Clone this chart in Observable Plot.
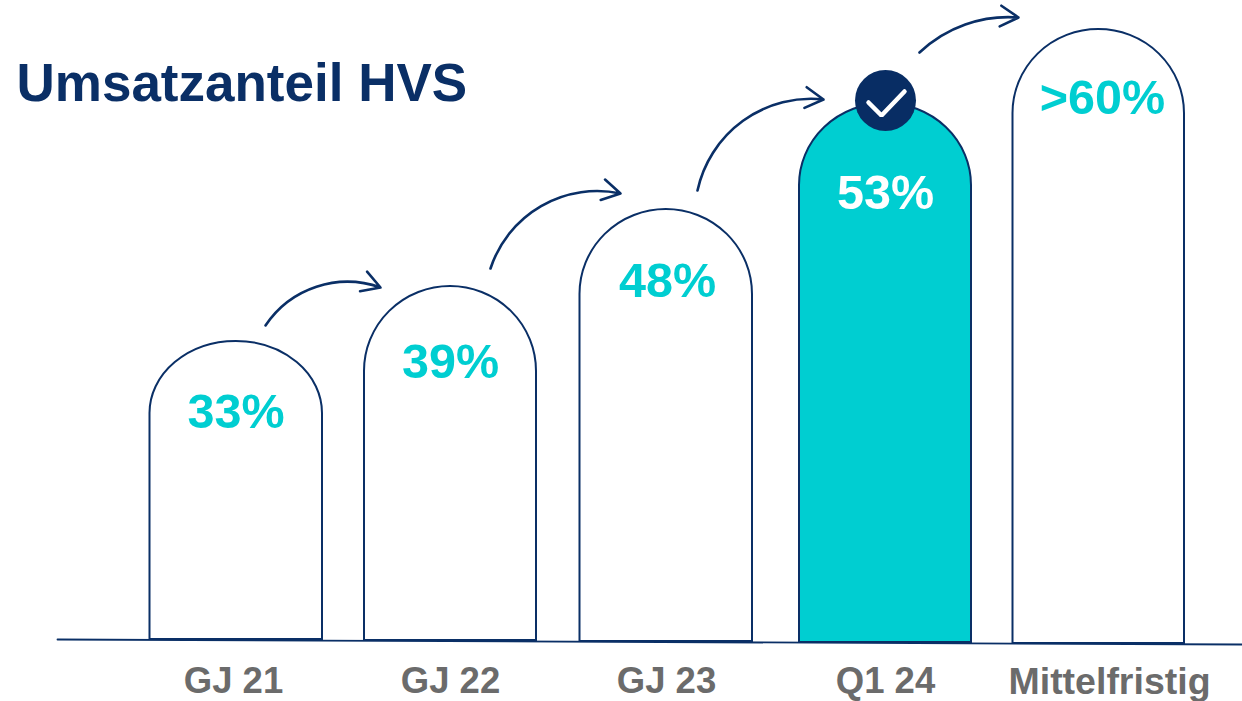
<!DOCTYPE html>
<html><head><meta charset="utf-8">
<style>html,body{margin:0;padding:0;background:#fff}svg{display:block}</style>
<script src="https://cdn.jsdelivr.net/npm/d3@7"></script>
<script src="https://cdn.jsdelivr.net/npm/@observablehq/plot@0.6"></script>
</head><body><div id="chart"></div>
<script>
const navy="#0a2f66", teal="#00ced1", grey="#6b6b6b";
const categories=["GJ 21","GJ 22","GJ 23","Q1 24","Mittelfristig"];
const valueLabels=["33%","39%","48%","53%",">60%"];
const barLeft=[149.5,364,579.5,799,1012.5];
const barRight=[322,536,752,971,1184];
const barTop=[360,415,492,598,672];
const barBase=[62,61,60,59,58];
const archHeight=[72,85,85,82,84];
const labelCentre=[235.5,450,667,885,1102];
const labelLevel=[289,339,420,508,603];
const categoryCentre=[233,450,666,885,1109];
const categoryLevel=[20,20,20,20,20];
const categorySize=[36.5,36.5,36.5,36.5,37.5];
const highlighted=[false,false,false,true,false];
const axisX=[57,1242], axisY=[62,57];
const arrowFromX=[265,490,697,919], arrowFromY=[376,433,511,649];
const arrowToX=[380,620,823,1018], arrowToY=[414,508,602,684];
const arrowBend=[38,42,42,24];
const checkX=[868,881,904], checkY=[599,586,610];
const bars=categories.map((c,i)=>({c,x1:barLeft[i],x2:barRight[i],y1:barBase[i],y2:barTop[i],arch:archHeight[i],on:highlighted[i],label:valueLabels[i],lx:labelCentre[i],ly:labelLevel[i],cx:categoryCentre[i],cy:categoryLevel[i],cs:categorySize[i]}));
const arrows=arrowFromX.map((x,i)=>({x1:x,y1:arrowFromY[i],x2:arrowToX[i],y2:arrowToY[i],b:arrowBend[i]}));
const plot=Plot.plot({width:1242,height:701,margin:0,
  x:{domain:[0,1242],range:[0,1242],axis:null},
  y:{domain:[0,701],range:[701,0],axis:null},
  style:{background:"#fff",fontFamily:"'Liberation Sans',Arial,sans-serif"},
  marks:[
    Plot.line(axisX.map((x,i)=>({x,y:axisY[i]})),{x:"x",y:"y",stroke:navy,strokeWidth:1.8}),
    Plot.rect(bars,{x1:"x1",x2:"x2",y1:"y1",y2:"y2",ry2:86,fill:d=>d.on?teal:"#fff",stroke:navy,strokeWidth:2,
      render(index,scales,values,dims,ctx,next){
        const g=next(index,scales,values,dims,ctx);
        d3.select(g).selectAll("path").attr("d",i=>{
          const b=bars[i], X1=scales.x(b.x1), X2=scales.x(b.x2), Y1=scales.y(b.y1), Y2=scales.y(b.y2), S=scales.y(b.y2-b.arch);
          return `M${X1},${Y1}V${S}A${(X2-X1)/2},${S-Y2} 0 0 1 ${X2},${S}V${Y1}Z`;
        });
        return g;
      }}),
    ...arrows.map(a=>Plot.arrow([a],{x1:"x1",y1:"y1",x2:"x2",y2:"y2",bend:a.b,stroke:navy,strokeWidth:2.6,headLength:12,headAngle:60})),
    Plot.dot([{x:885,y:601}],{x:"x",y:"y",r:30.5,fill:"#082d64"}),
    Plot.line(checkX.map((x,i)=>({x,y:checkY[i]})),{x:"x",y:"y",stroke:"#fff",strokeWidth:4.5,curve:"linear",strokeLinejoin:"miter"}),
    Plot.text(bars,{x:"lx",y:"ly",text:"label",fill:d=>d.on?"#fff":teal,fontSize:48.5,fontWeight:700,textAnchor:"middle",lineAnchor:"middle"}),
    Plot.text(bars,{x:"cx",y:"cy",text:"c",fill:grey,fontSize:"cs",fontWeight:700,textAnchor:"middle",lineAnchor:"middle"}),
    Plot.text(["Umsatzanteil HVS"],{x:16,y:617,text:d=>d,fill:navy,fontSize:53,fontWeight:700,textAnchor:"start",lineAnchor:"middle"})
  ]});
document.getElementById("chart").append(plot);
</script></body></html>
